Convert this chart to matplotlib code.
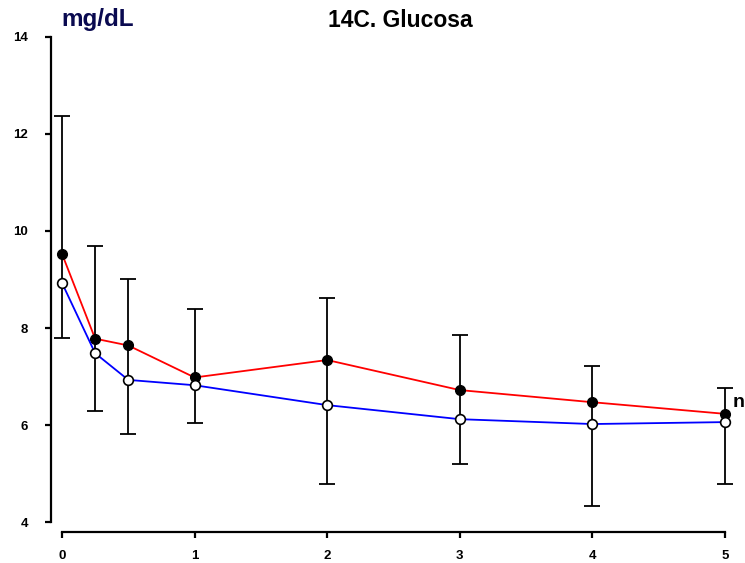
import matplotlib.pyplot as plt

# tiempos (h) y valores de glucosa
tiempo = [0, 0.25, 0.5, 1, 2, 3, 4, 5]
rojo = [9.53, 7.78, 7.64, 6.98, 7.34, 6.72, 6.47, 6.23]
azul = [8.93, 7.48, 6.93, 6.82, 6.41, 6.12, 6.02, 6.06]
rojo_sup = [12.37, 9.69, 9.01, 8.39, 8.62, 7.86, 7.22, 6.76]
azul_inf = [7.79, 6.29, 5.81, 6.05, 4.78, 5.20, 4.33, 4.78]

fig = plt.figure(figsize=(7.45, 5.63), dpi=100)
ax = fig.add_axes([0.0832, 0.0728, 0.89, 0.8615])

# barras de error (rojo hacia arriba, azul hacia abajo) con sus topes
ax.vlines(tiempo, azul_inf, rojo_sup, color='black', lw=1.3, clip_on=False)
ax.plot(tiempo, rojo_sup, ls='none', marker='_', ms=11, mew=1.3,
        color='black', clip_on=False)
ax.plot(tiempo, azul_inf, ls='none', marker='_', ms=11, mew=1.3,
        color='black', clip_on=False)

ax.plot(tiempo, rojo, color='red', lw=1.3, marker='o', ms=7,
        mfc='black', mec='black', clip_on=False, zorder=3)
ax.plot(tiempo, azul, color='blue', lw=1.3, marker='o', ms=7,
        mfc='white', mec='black', mew=1.2, clip_on=False, zorder=3)

ax.set_xlim(0, 5)
ax.set_ylim(4, 14)
ax.set_xticks([0, 1, 2, 3, 4, 5])
ax.set_yticks([4, 6, 8, 10, 12, 14])

for s in ['top', 'right']:
    ax.spines[s].set_visible(False)
ax.spines['left'].set_position(('outward', 8))
ax.spines['bottom'].set_position(('outward', 7.5))
ax.spines['left'].set_linewidth(1.6)
ax.spines['bottom'].set_linewidth(1.6)
ax.tick_params(width=1.6, length=4.5, labelsize=9.5)
for lab in ax.get_xticklabels() + ax.get_yticklabels():
    lab.set_fontweight('bold')
    lab.set_family('Liberation Sans')
ax.tick_params(axis='y', pad=12)
ax.tick_params(axis='x', pad=8)

fig.text(0.538, 0.963, '14C. Glucosa', ha='center', va='center',
         fontsize=16.5, fontweight='bold', family='Liberation Sans')
fig.text(0.083, 0.965, 'mg/dL', ha='left', va='center', fontsize=17.5,
         fontweight='bold', color='#0a0a50', family='Liberation Sans')
fig.text(0.984, 0.285, 'n', ha='left', va='center', fontsize=14,
         fontweight='bold', family='Liberation Sans')

fig.savefig('out.png', dpi=100)
